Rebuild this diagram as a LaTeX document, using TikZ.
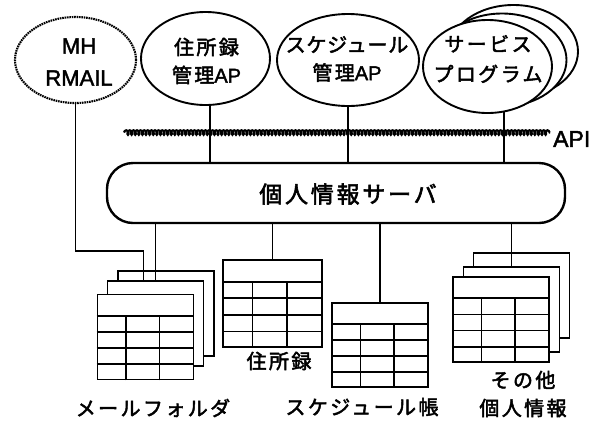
\documentclass[tikz,border=0pt]{standalone}
\usepackage{fontspec}
\setmainfont{Liberation Sans}[FakeBold=1.8]
\newfontfamily\cjk{Noto Sans CJK JP}[LetterSpace=12, FakeBold=2.4]
\usetikzlibrary{calc,decorations.pathmorphing,shapes.geometric}
\tikzset{
  ap/.style={ellipse, draw, line width=1.9pt, fill=white, inner sep=0pt},
  aptext/.style={align=center, inner sep=0pt},
  tab/.style={draw, fill=white, line width=1.8pt, minimum width=96pt, minimum height=85pt, inner sep=0pt},
  tabline/.style={line width=1.6pt},
  conn/.style={line width=1.8pt},
  server/.style={draw, rounded corners=26pt, line width=2.4pt, minimum width=458pt, minimum height=60pt, inner sep=0pt},
  lbl/.style={inner sep=0pt, align=center, font=\cjk\fontsize{20}{28}\selectfont},
  apiline/.style={line width=2.2pt, decorate, decoration={coil, amplitude=2.2pt, segment length=3.6pt, aspect=0.6}}
}
\newcommand\tabgrid[1]{%
  \coordinate (#1-h) at ($(#1.north west)!0.255!(#1.south west)$);
  \foreach \f in {0.255,0.441,0.628,0.814}
    \draw[tabline] ($(#1.north west)!\f!(#1.south west)$) -- ($(#1.north east)!\f!(#1.south east)$);
  \foreach \f in {0.3,0.645}
    \draw[tabline] ($(#1.south west)!\f!(#1.south east)$) coordinate (#1-t) -- (#1-t |- #1-h);
}
\begin{document}
\begin{tikzpicture}[x=1pt,y=-1pt]
\useasboundingbox (0,0) rectangle (597,424);
% API line
\coordinate (apiL) at (124,132.5);
\coordinate (apiR) at (550,132.5);
\draw[apiline] (apiL) -- (apiR);
\node[anchor=west, inner sep=0pt, font=\fontsize{23}{26}\selectfont] (apilbl) at (553,139) {API};
% application ellipses
\node[ap, line width=2.1pt, dash pattern=on 1.6pt off 0.8pt, minimum width=121pt, minimum height=86pt] (mh) at (75.5,60) {};
\node[aptext, font=\fontsize{22}{32}\selectfont] (mhtxt) at (79,62) {MH\\RMAIL};
\node[ap, minimum width=129pt, minimum height=93pt] (addrap) at (205.5,58.5) {};
\node[aptext, font=\fontsize{20}{28}\selectfont] (addrtxt) at (206.5,61) {{\cjk 住所録}\\{\cjk 管理}AP};
\node[ap, minimum width=142pt, minimum height=92pt] (schap) at (348,60) {};
\node[aptext, font=\fontsize{20}{28}\selectfont] (schtxt) at (347,59) {{\cjk\addfontfeature{LetterSpace=4}スケジュール}\\{\cjk 管理}AP};
\node[ap, minimum width=129pt, minimum height=93pt] (svcB) at (513.5,51.5) {};
\node[ap, minimum width=129pt, minimum height=93pt] (svcM) at (502,60) {};
\node[ap, minimum width=129pt, minimum height=93pt] (svc) at (487.5,66.5) {};
\node[aptext, font=\cjk\fontsize{20}{30}\selectfont] (svctxt) at (488,59) {サービス\\プログラム};
% server
\node[server] (srv) at (336,193) {};
\node[inner sep=0pt, font=\cjk\fontsize{23}{28}\selectfont] (srvtxt) at (348,194) {個人情報サーバ};
% tables
\node[tab] (mailB) at (166,313.5) {};
\node[tab] (mailM) at (155.5,323.5) {};
\node[tab] (mailF) at (145.5,337) {};
\tabgrid{mailF}
\node[tab, minimum width=99pt, minimum height=87pt] (addr) at (272.5,303.5) {};
\tabgrid{addr}
\node[tab, minimum height=84pt] (sch) at (380,345) {};
\tabgrid{sch}
\node[tab] (othB) at (521.5,295.5) {};
\node[tab] (othM) at (511.5,309.5) {};
\node[tab] (othF) at (501,319.5) {};
\tabgrid{othF}
% labels
\node[lbl] (maillbl) at (153,408) {メールフォルダ};
\node[lbl] (addrlbl) at (279,361) {住所録};
\node[lbl] (schlbl) at (362,407) {スケジュール帳};
\node[lbl] (othlbl) at (523,394) {その他\\個人情報};
% connectors
\draw[conn] (addrap.-85) -- (addrap.-85 |- srv.north);
\draw[conn] (schap.south) -- (schap.south |- srv.north);
\draw[conn] (svc.-70) -- (svc.-70 |- srv.north);
\draw[conn] (mh.south) -- ++(0,147) -| ($(mailM.north)+(-12,0)$);
\draw[conn] (mailM.north |- srv.south) -- (mailM.north);
\draw[conn] (addr.north |- srv.south) -- (addr.north);
\draw[conn] (sch.north |- srv.south) -- (sch.north);
\draw[conn] (othM.north |- srv.south) -- (othM.north);
\end{tikzpicture}
\end{document}
